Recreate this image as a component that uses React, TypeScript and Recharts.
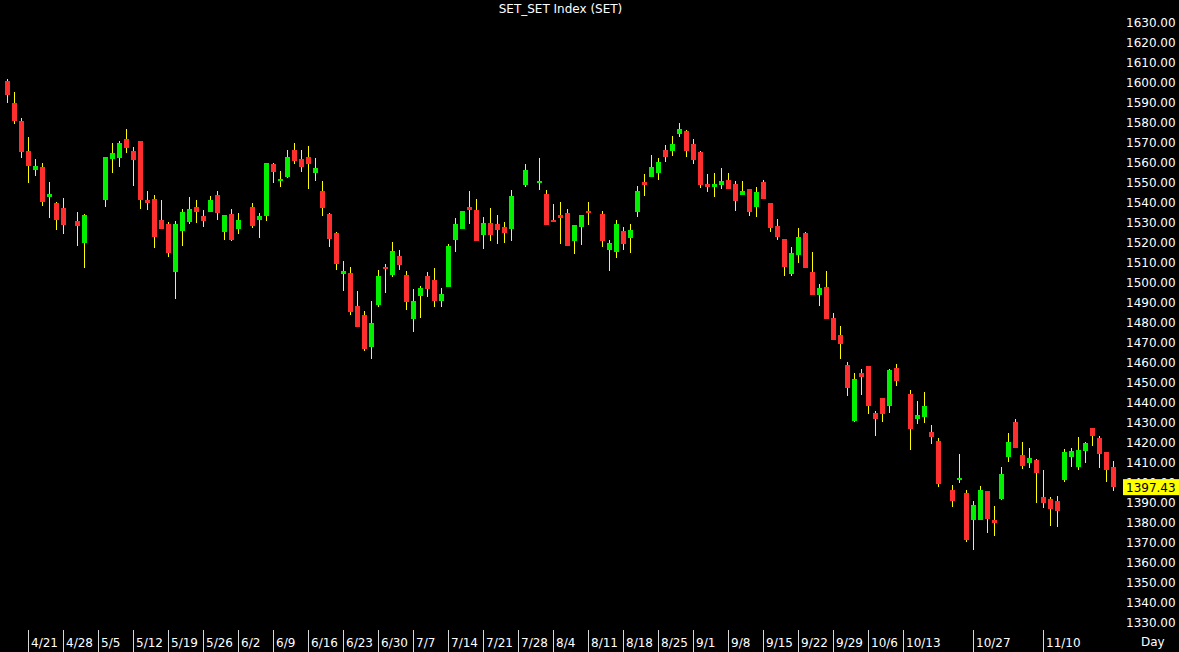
import React from "react";
import { ComposedChart, Bar, XAxis, YAxis } from "recharts";

const TITLE = "SET_SET Index (SET)";
const PERIOD_LABEL = "Day";
const FIRST_DAY = [2023, 3, 18];
const LAST_DAY = [2023, 10, 24];
const HOLIDAYS = ["5/1", "5/4", "5/5", "6/5", "7/28", "8/1", "8/14", "10/13", "10/23"];

// [open, high, low, close] for each trading day, in order
const CANDLES: number[][] = [
  [1600.6, 1601.3, 1589.4, 1593.5], [1589.7, 1594.8, 1579.2, 1580.5], [1580.5, 1582.2, 1562.0, 1564.8],
  [1565.3, 1572.3, 1549.5, 1558.2], [1555.8, 1561.5, 1553.0, 1558.0], [1557.5, 1559.7, 1538.2, 1539.8],
  [1542.5, 1549.8, 1531.8, 1544.0], [1539.7, 1540.2, 1525.8, 1530.8], [1537.2, 1542.2, 1524.2, 1528.7],
  [1530.5, 1535.2, 1517.8, 1528.2], [1519.7, 1533.8, 1507.2, 1533.3],
  [1541.0, 1562.3, 1537.3, 1562.3], [1561.3, 1569.5, 1554.7, 1564.5], [1562.2, 1570.7, 1557.5, 1569.7],
  [1571.3, 1576.5, 1564.7, 1567.2], [1565.5, 1567.5, 1547.8, 1561.2], [1570.7, 1570.7, 1536.7, 1541.0],
  [1541.0, 1545.5, 1536.2, 1539.7], [1541.3, 1543.5, 1517.2, 1522.3], [1531.0, 1541.0, 1526.5, 1526.5],
  [1529.0, 1530.2, 1512.5, 1514.5], [1504.8, 1530.5, 1491.3, 1529.2], [1525.7, 1536.5, 1518.2, 1534.8],
  [1530.2, 1542.5, 1529.2, 1536.3], [1537.5, 1540.8, 1529.5, 1535.0], [1533.2, 1536.0, 1527.3, 1530.5],
  [1535.2, 1543.0, 1535.2, 1541.0], [1543.5, 1545.5, 1531.0, 1534.5], [1525.2, 1533.5, 1521.0, 1533.5],
  [1534.2, 1536.5, 1520.5, 1521.0], [1526.5, 1534.3, 1524.0, 1531.2],
  [1537.5, 1539.3, 1526.8, 1528.2], [1531.2, 1534.5, 1522.2, 1533.2], [1533.2, 1559.5, 1530.5, 1559.5],
  [1559.0, 1559.5, 1549.5, 1554.8], [1550.7, 1555.7, 1547.3, 1551.5], [1552.7, 1566.2, 1552.2, 1562.5],
  [1565.8, 1569.3, 1559.2, 1560.7], [1561.3, 1566.0, 1555.2, 1557.5], [1562.5, 1567.8, 1546.3, 1559.2],
  [1554.5, 1562.2, 1550.7, 1556.8], [1545.5, 1550.3, 1532.8, 1537.2], [1534.0, 1534.5, 1517.3, 1521.7],
  [1524.5, 1525.0, 1506.2, 1509.0], [1504.2, 1510.3, 1495.7, 1505.5], [1504.3, 1507.5, 1483.7, 1485.0],
  [1488.2, 1495.5, 1477.7, 1477.7], [1483.5, 1485.5, 1465.3, 1466.5], [1467.5, 1490.5, 1461.5, 1479.5],
  [1488.5, 1506.0, 1487.7, 1503.2], [1507.7, 1509.0, 1494.5, 1506.7], [1503.7, 1520.0, 1502.3, 1515.5],
  [1513.0, 1516.0, 1506.2, 1508.7], [1503.3, 1505.7, 1486.2, 1490.2], [1481.7, 1496.5, 1474.8, 1490.5],
  [1493.0, 1498.0, 1482.2, 1496.8], [1503.0, 1505.0, 1492.5, 1496.7], [1501.0, 1506.8, 1487.7, 1490.7],
  [1490.7, 1497.2, 1487.3, 1494.0], [1497.3, 1519.0, 1497.3, 1518.0], [1521.0, 1532.0, 1515.2, 1528.8],
  [1526.7, 1535.5, 1526.7, 1535.5], [1537.7, 1545.5, 1529.2, 1536.2], [1536.0, 1541.5, 1520.7, 1520.7],
  [1523.7, 1532.3, 1516.5, 1529.3], [1529.3, 1536.8, 1520.5, 1523.7], [1529.0, 1533.5, 1519.0, 1526.2],
  [1527.3, 1530.0, 1519.3, 1524.3], [1526.7, 1546.0, 1520.7, 1543.2],
  [1548.3, 1559.0, 1547.3, 1556.0],
  [1549.5, 1562.0, 1546.2, 1550.3], [1543.8, 1545.8, 1528.3, 1528.7], [1531.0, 1538.8, 1530.0, 1530.0],
  [1533.3, 1540.0, 1519.2, 1532.2], [1534.5, 1536.3, 1518.2, 1518.2], [1520.7, 1528.3, 1514.2, 1528.3],
  [1527.7, 1533.3, 1518.3, 1533.3], [1535.5, 1540.0, 1528.7, 1534.7],
  [1534.0, 1535.7, 1517.3, 1520.7], [1516.2, 1521.0, 1505.7, 1519.5], [1514.8, 1531.0, 1512.2, 1529.0],
  [1525.7, 1527.5, 1516.2, 1518.8], [1522.2, 1529.2, 1514.7, 1526.0], [1535.2, 1548.2, 1532.3, 1545.5],
  [1550.2, 1554.0, 1543.2, 1548.7], [1552.7, 1563.5, 1552.7, 1557.3], [1554.3, 1561.8, 1551.0, 1560.2],
  [1565.8, 1568.5, 1560.2, 1562.7], [1565.7, 1573.2, 1563.2, 1568.8], [1574.0, 1579.3, 1572.7, 1576.5],
  [1575.3, 1576.0, 1562.7, 1565.7], [1569.2, 1571.5, 1559.2, 1561.2], [1565.0, 1565.5, 1546.8, 1548.5],
  [1549.0, 1553.8, 1545.2, 1547.7], [1547.3, 1554.5, 1542.5, 1548.8], [1548.5, 1556.8, 1546.3, 1550.5],
  [1551.2, 1554.5, 1546.7, 1546.7], [1549.0, 1550.3, 1535.7, 1540.7], [1543.5, 1550.5, 1543.5, 1545.5],
  [1546.5, 1546.5, 1533.0, 1535.2], [1537.5, 1547.7, 1532.3, 1545.2], [1550.0, 1551.0, 1541.7, 1541.7],
  [1539.5, 1539.5, 1525.2, 1527.2], [1527.8, 1531.5, 1521.0, 1522.7], [1521.7, 1521.7, 1503.2, 1507.5],
  [1504.2, 1517.3, 1503.2, 1514.3], [1513.7, 1527.0, 1509.5, 1522.7], [1524.3, 1524.8, 1507.0, 1507.0],
  [1504.8, 1514.8, 1493.7, 1493.7], [1493.7, 1498.8, 1488.0, 1497.2], [1497.5, 1505.5, 1481.3, 1481.7],
  [1482.2, 1484.3, 1471.2, 1471.2], [1473.5, 1477.8, 1461.7, 1469.2], [1458.7, 1459.8, 1443.2, 1447.2],
  [1430.5, 1454.7, 1430.0, 1451.3], [1454.7, 1456.3, 1443.3, 1452.3], [1458.0, 1458.0, 1433.8, 1438.2],
  [1434.7, 1435.5, 1423.2, 1431.5], [1442.0, 1442.0, 1430.0, 1434.2], [1437.8, 1456.5, 1434.3, 1456.0],
  [1457.0, 1459.0, 1448.2, 1450.3],
  [1444.0, 1446.0, 1416.2, 1426.7], [1431.7, 1440.7, 1429.2, 1433.5], [1432.5, 1445.2, 1429.7, 1438.0],
  [1425.2, 1428.5, 1419.2, 1422.7], [1420.3, 1422.0, 1397.7, 1399.0],
  [1396.0, 1398.3, 1387.5, 1390.7], [1401.0, 1414.0, 1399.3, 1402.0], [1394.5, 1396.0, 1370.0, 1370.8],
  [1381.0, 1390.7, 1366.0, 1388.3], [1381.0, 1398.0, 1381.0, 1396.0], [1395.7, 1395.7, 1374.3, 1381.5],
  [1381.0, 1388.0, 1373.2, 1379.7], [1391.5, 1407.7, 1391.2, 1404.0], [1412.5, 1424.5, 1409.8, 1419.8],
  [1430.0, 1431.3, 1416.8, 1416.8], [1413.5, 1419.8, 1406.7, 1408.2], [1409.7, 1416.8, 1406.8, 1411.8],
  [1411.0, 1411.5, 1389.3, 1404.7], [1392.7, 1405.8, 1387.2, 1389.3], [1391.5, 1392.3, 1378.0, 1386.7],
  [1390.3, 1393.0, 1377.7, 1385.7], [1401.0, 1416.7, 1400.2, 1415.2], [1412.7, 1417.0, 1407.7, 1415.3],
  [1407.5, 1422.7, 1406.0, 1415.8], [1415.5, 1419.8, 1409.3, 1419.5], [1427.0, 1427.0, 1418.2, 1423.2],
  [1422.0, 1422.8, 1407.2, 1413.8], [1415.0, 1415.0, 1400.2, 1406.2], [1407.3, 1410.7, 1395.7, 1397.43],
];

const DATE_TICKS = [
  "4/21", "4/28", "5/5", "5/12", "5/19", "5/26", "6/2", "6/9", "6/16", "6/23", "6/30", "7/7",
  "7/14", "7/21", "7/28", "8/4", "8/11", "8/18", "8/25", "9/1", "9/8", "9/15", "9/22", "9/29",
  "10/6", "10/13", "10/27", "11/10",
];

const PRICE_TICKS = [
  1330, 1340, 1350, 1360, 1370, 1380, 1390, 1400, 1410, 1420, 1430, 1440, 1450, 1460, 1470, 1480,
  1490, 1500, 1510, 1520, 1530, 1540, 1550, 1560, 1570, 1580, 1590, 1600, 1610, 1620, 1630,
];

const LAST_PRICE = 1397.43;
const PRICE_DOMAIN = [1325, 1640];

const UP = "#00f000";
const DOWN = "#ff2e2e";
const WICK = "#ffff00";
const TEXT = "#ffffff";
const FONT = "'DejaVu Sans', sans-serif";

// one slot per weekday, holidays stay as empty slots
const buildRows = () => {
  const rows: any[] = [];
  const d = new Date(FIRST_DAY[0], FIRST_DAY[1], FIRST_DAY[2]);
  const end = new Date(LAST_DAY[0], LAST_DAY[1], LAST_DAY[2]);
  let i = 0;
  while (d <= end) {
    const wd = d.getDay();
    if (wd !== 0 && wd !== 6) {
      const date = `${d.getMonth() + 1}/${d.getDate()}`;
      if (HOLIDAYS.includes(date) || i >= CANDLES.length) {
        rows.push({ date });
      } else {
        const [o, h, l, c] = CANDLES[i++];
        rows.push({ date, o, h, l, c, range: [l, h] });
      }
    }
    d.setDate(d.getDate() + 1);
  }
  return rows;
};

const rows = buildRows();

const Candle = (props: any) => {
  const { x, y, width, height, payload } = props;
  if (!payload || payload.o == null || !isFinite(y) || !isFinite(height)) return <g />;
  const top = Math.min(y, y + height);
  const bottom = Math.max(y, y + height);
  const span = payload.h - payload.l;
  const py = (v: number) => (span > 0 ? top + ((payload.h - v) / span) * (bottom - top) : top);
  const up = payload.c >= payload.o;
  const bt = py(Math.max(payload.o, payload.c));
  const bb = py(Math.min(payload.o, payload.c));
  const cx = Math.floor(x + width / 2);
  return (
    <g shapeRendering="crispEdges">
      <rect x={cx} y={top} width={1} height={Math.max(bottom - top, 1)} fill={WICK} />
      <rect x={x + 1} y={bt} width={width - 2} height={Math.max(bb - bt, 1)} fill={up ? UP : DOWN} />
    </g>
  );
};

const DateTick = (props: any) => {
  const { x, payload } = props;
  const lx = Math.floor(x) + 0.5;
  return (
    <g>
      <line x1={lx} x2={lx} y1={630} y2={652} stroke="#d8d8d8" strokeWidth={1} />
      <text x={lx + 2.5} y={646.5} fill={TEXT} fontSize={12} fontFamily={FONT}>{payload.value}</text>
    </g>
  );
};

const PriceTick = (props: any) => {
  const { y, payload } = props;
  return (
    <text x={1126} y={y + 4.5} fill={TEXT} fontSize={12} fontFamily={FONT}>
      {Number(payload.value).toFixed(2)}
    </text>
  );
};

// last close marker, drawn by a second axis so it sits above the price labels
const LastPriceTick = (props: any) => {
  const { y, payload } = props;
  return (
    <g>
      <rect x={1123} y={y - 8} width={56} height={16} fill="#ffff00" />
      <text x={1126} y={y + 4.5} fill="#000000" fontSize={12} fontFamily={FONT}>
        {Number(payload.value).toFixed(2)}
      </text>
    </g>
  );
};

export default function App() {
  return (
    <div style={{ position: "fixed", left: 0, top: 0, width: 1179, height: 652, background: "#000", overflow: "hidden" }}>
      <div style={{ position: "absolute", left: 4, top: 1, width: 1113, textAlign: "center", color: TEXT, fontFamily: FONT, fontSize: 12, lineHeight: "16px" }}>
        {TITLE}
      </div>
      <ComposedChart width={1180} height={652} data={rows} margin={{ top: 2, right: 0, bottom: 0, left: 4 }} barCategoryGap={0} barGap={0}>
        <XAxis dataKey="date" height={20} interval={0} ticks={DATE_TICKS} tick={<DateTick />} tickLine={false} axisLine={false} />
        <YAxis yAxisId="price" orientation="right" width={62} domain={PRICE_DOMAIN} allowDataOverflow interval={0} ticks={PRICE_TICKS} tick={<PriceTick />} tickLine={false} axisLine={false} />
        <YAxis yAxisId="last" orientation="right" width={1} domain={PRICE_DOMAIN} allowDataOverflow interval={0} ticks={[LAST_PRICE]} tick={<LastPriceTick />} tickLine={false} axisLine={false} />
        <Bar yAxisId="price" dataKey="range" shape={<Candle />} isAnimationActive={false} />
      </ComposedChart>
      <div style={{ position: "absolute", left: 1141, top: 634, color: TEXT, fontFamily: FONT, fontSize: 12, lineHeight: "16px" }}>
        {PERIOD_LABEL}
      </div>
    </div>
  );
}
